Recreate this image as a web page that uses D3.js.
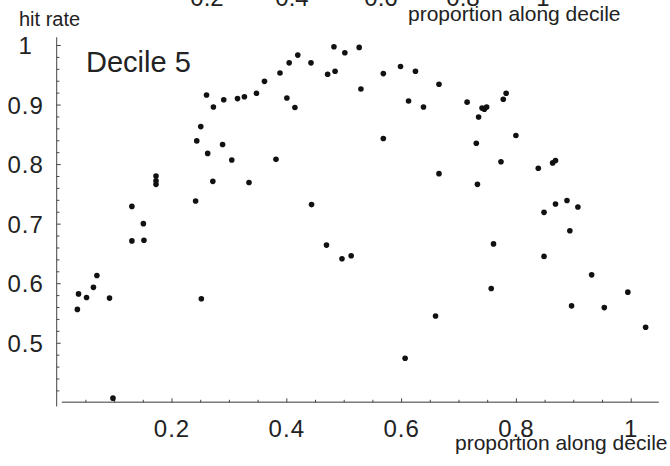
<!DOCTYPE html>
<html>
<head>
<meta charset="utf-8">
<script src="https://cdn.jsdelivr.net/npm/d3@7"></script>
<style>
  html, body { margin: 0; padding: 0; background: #fff; }
  svg { display: block; }
  text { font-family: "Liberation Sans", Arial, Helvetica, sans-serif; fill: #222; }
</style>
</head>
<body>
<svg id="chart" width="670" height="466"></svg>
<script>
// ---- data ----
const proportion = [0.036,0.038,0.052,0.064,0.070,0.092,0.098,0.131,0.131,0.151,0.152,0.173,0.173,0.173,
  0.242,0.244,0.251,0.252,0.261,0.263,0.272,0.273,0.289,0.291,0.305,0.315,0.327,0.335,0.348,0.362,
  0.382,0.389,0.401,0.405,0.415,0.420,0.443,0.444,0.470,0.472,0.483,0.485,0.497,0.502,0.513,0.527,
  0.530,0.569,0.569,0.599,0.607,0.613,0.625,0.639,0.660,0.666,0.666,0.715,0.731,0.733,0.735,0.741,
  0.745,0.749,0.757,0.761,0.774,0.778,0.783,0.800,0.839,0.849,0.849,0.864,0.869,0.869,0.889,0.894,
  0.897,0.908,0.932,0.954,0.995,1.026];
const hitRate = [0.556,0.582,0.576,0.593,0.613,0.575,0.407,0.729,0.671,0.700,0.672,0.780,0.772,0.766,
  0.738,0.839,0.863,0.574,0.916,0.818,0.771,0.896,0.833,0.908,0.807,0.910,0.913,0.769,0.919,0.939,
  0.808,0.953,0.911,0.970,0.895,0.983,0.970,0.732,0.664,0.951,0.997,0.956,0.641,0.987,0.646,0.996,
  0.926,0.952,0.843,0.964,0.474,0.906,0.956,0.896,0.545,0.934,0.784,0.904,0.835,0.766,0.879,0.894,
  0.892,0.896,0.591,0.666,0.804,0.909,0.919,0.848,0.793,0.719,0.645,0.802,0.806,0.733,0.739,0.688,
  0.562,0.728,0.614,0.559,0.585,0.526];
const xMajorTicks = [0.2, 0.4, 0.6, 0.8, 1];
const xTickLabels = ["0.2", "0.4", "0.6", "0.8", "1"];
const yMajorTicks = [0.5, 0.6, 0.7, 0.8, 0.9, 1];
const yTickLabels = ["0.5", "0.6", "0.7", "0.8", "0.9", "1"];
const upperFragments = ["0.2", "0.4", "0.6", "0.8", "1"];
const upperFragmentX = [207, 292, 381, 463, 543];
const titleText = "Decile 5";
const xTitle = "proportion along decile";
const yTitle = "hit rate";

// ---- layout ----
const svg = d3.select("#chart");
const x = d3.scaleLinear().domain([0, 1]).range([56.7, 630.7]);
const y = d3.scaleLinear().domain([0.4, 1]).range([402.3, 45]);
const axisY0 = 402.3, axisX0 = 56.7;

const xMinor = d3.range(0.05, 1.05, 0.05).map(v => +v.toFixed(2)).filter(v => !xMajorTicks.some(m => Math.abs(m - v) < 1e-6));
const yMinor = d3.range(0.42, 1.0, 0.02).map(v => +v.toFixed(2)).filter(v => !yMajorTicks.some(m => Math.abs(m - v) < 1e-6));

// clipped labels of the chart above
svg.append("g").selectAll("text").data(upperFragments).join("text")
  .attr("x", (d, i) => upperFragmentX[i]).attr("y", 5.5)
  .attr("text-anchor", "middle").style("font-size", "24px").text(d => d);
svg.append("text").attr("x", 408).attr("y", 21).style("font-size", "21px").text(xTitle);

// x axis
const gx = svg.append("g").attr("transform", `translate(0,${axisY0})`);
gx.append("line").attr("x1", x(0.009)).attr("x2", x(1.049)).attr("stroke", "#7a7a7a").attr("stroke-width", 1.5);
gx.append("g").call(d3.axisBottom(x).tickValues(xMinor).tickSize(-2.5).tickFormat(""))
  .call(g => g.select(".domain").remove())
  .call(g => g.selectAll(".tick line").attr("stroke", "#444"));
gx.append("g").call(d3.axisBottom(x).tickValues(xMajorTicks).tickSize(-4).tickFormat((d, i) => xTickLabels[i]))
  .call(g => g.select(".domain").remove())
  .call(g => g.selectAll(".tick line").attr("stroke", "#444"))
  .call(g => g.selectAll(".tick text").attr("y", 34.5).attr("dy", null)
     .attr("fill", "#222").style("font-size", "24px").style("letter-spacing", "1px")
     .style("font-family", '"Liberation Sans", Arial, sans-serif'));

// y axis
const gy = svg.append("g").attr("transform", `translate(${axisX0},0)`);
gy.append("line").attr("y1", y(1.013)).attr("y2", y(0.393)).attr("stroke", "#444").attr("stroke-width", 1);
gy.append("g").call(d3.axisLeft(y).tickValues(yMinor).tickSize(-2.7).tickFormat(""))
  .call(g => g.select(".domain").remove())
  .call(g => g.selectAll(".tick line").attr("stroke", "#444"));
gy.append("g").call(d3.axisLeft(y).tickValues(yMajorTicks).tickSize(-4).tickFormat((d, i) => yTickLabels[i]))
  .call(g => g.select(".domain").remove())
  .call(g => g.selectAll(".tick line").attr("stroke", "#444"))
  .call(g => g.selectAll(".tick text").attr("x", -31).attr("dy", "0.36em")
     .attr("text-anchor", "middle").attr("fill", "#222").style("font-size", "24px").style("letter-spacing", "1px")
     .style("font-family", '"Liberation Sans", Arial, sans-serif'));

// axis titles
svg.append("text").attr("x", 19).attr("y", 26).style("font-size", "20px").text(yTitle);
svg.append("text").attr("x", 455).attr("y", 450).style("font-size", "21px").text(xTitle);
svg.append("text").attr("x", 86).attr("y", 72.3).style("font-size", "29px").text(titleText);

// points
svg.append("g").selectAll("circle").data(proportion).join("circle")
  .attr("cx", d => x(d)).attr("cy", (d, i) => y(hitRate[i]))
  .attr("r", 2.8).attr("fill", "#111");
</script>
</body>
</html>
